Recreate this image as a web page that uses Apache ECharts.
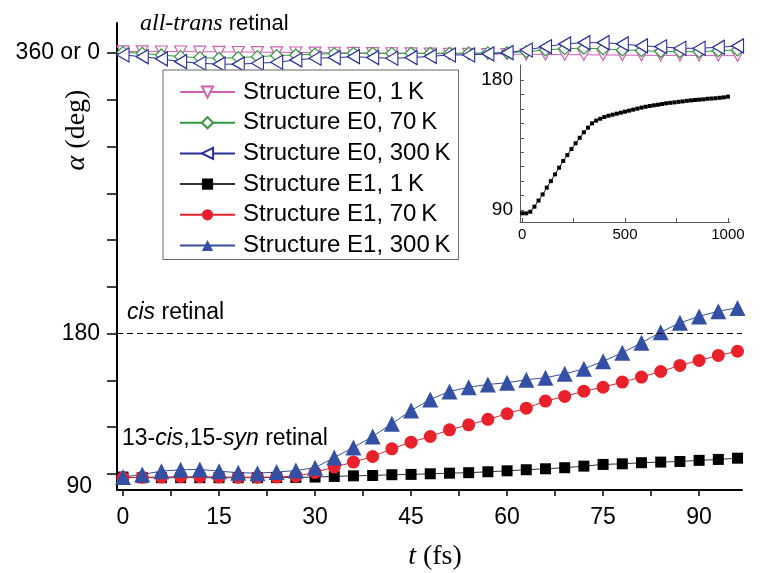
<!DOCTYPE html>
<html>
<head>
<meta charset="utf-8">
<script src="https://cdn.jsdelivr.net/npm/echarts@6/dist/echarts.min.js"></script>
<style>
  html, body { margin: 0; padding: 0; background: #fff; }
  #chart { width: 762px; height: 573px; }
</style>
</head>
<body>
<div id="chart"></div>
<script>
// time axis (fs), one point every 3 fs
var times = [0, 3, 6, 9, 12, 15, 18, 21, 24, 27, 30, 33, 36, 39, 42, 45, 48, 51, 54, 57, 60, 63, 66, 69, 72, 75, 78, 81, 84, 87, 90, 93, 96];

// structure E0 stays near all-trans (360 or 0)
var e0_1K = [361.0, 361.0, 360.9, 360.9, 360.8, 360.7, 360.6, 360.5, 360.4, 360.3, 360.2, 360.1, 360.0, 359.9, 359.8, 359.7, 359.6, 359.5, 359.4, 359.3, 359.2, 359.1, 359.0, 358.9, 358.8, 358.7, 358.6, 358.5, 358.4, 358.4, 358.3, 358.3, 358.2];
var e0_70K = [360.4, 359.8, 358.7, 357.6, 357.0, 356.6, 357.0, 357.6, 358.3, 358.7, 359.2, 359.6, 359.8, 359.8, 359.7, 359.8, 359.8, 359.8, 359.9, 360.0, 360.2, 360.8, 361.9, 362.8, 363.0, 362.6, 361.9, 361.5, 360.9, 360.8, 360.8, 361.4, 361.9];
var e0_300K = [358.7, 357.6, 356.2, 354.4, 353.4, 352.8, 352.8, 353.4, 354.0, 355.5, 356.6, 357.0, 357.6, 357.0, 356.6, 357.0, 357.8, 358.7, 358.7, 359.4, 360.2, 361.9, 364.0, 365.8, 366.6, 366.6, 365.8, 364.5, 364.0, 363.0, 363.0, 363.6, 364.5];

// structure E1 twists from 13-cis,15-syn towards cis
var e1_1K = [88.0, 87.6, 87.6, 87.6, 87.6, 87.6, 87.6, 87.6, 87.7, 87.8, 88.0, 88.4, 88.8, 89.0, 89.5, 89.7, 90.1, 90.5, 90.8, 91.4, 92.0, 92.7, 93.3, 94.0, 95.0, 96.1, 96.5, 97.2, 97.6, 98.0, 98.7, 99.3, 100.1];
var e1_70K = [87.5, 87.8, 88.0, 88.2, 88.2, 88.0, 87.9, 87.9, 88.0, 88.6, 91.0, 94.4, 97.6, 101.2, 106.1, 110.4, 114.0, 118.3, 121.5, 125.0, 128.6, 132.2, 136.7, 139.7, 143.1, 145.6, 148.9, 152.1, 155.7, 159.6, 162.8, 166.0, 168.7];
var e1_300K = [88.0, 89.7, 91.8, 92.7, 92.9, 91.8, 90.8, 90.5, 91.2, 92.2, 94.0, 100.5, 107.0, 114.0, 122.2, 130.7, 137.8, 142.9, 145.6, 147.4, 148.5, 150.4, 151.7, 154.2, 157.4, 162.3, 167.7, 174.1, 180.9, 186.9, 191.0, 194.4, 196.5];

// inset: E1 1K over 1000 fs
var insetTimes = [0, 20, 40, 60, 80, 100, 120, 140, 160, 180, 200, 220, 240, 260, 280, 300, 320, 340, 360, 380, 400, 420, 440, 460, 480, 500, 520, 540, 560, 580, 600, 620, 640, 660, 680, 700, 720, 740, 760, 780, 800, 820, 840, 860, 880, 900, 920, 940, 960, 980, 1000];
var insetAngle = [87.7, 87.7, 88.8, 92.3, 96.5, 100.8, 105.5, 110.0, 114.7, 119.3, 124.0, 128.0, 132.2, 136.2, 140.0, 143.8, 147.0, 150.0, 151.9, 153.2, 154.4, 155.3, 156.0, 156.7, 157.4, 158.1, 158.8, 159.5, 160.2, 160.9, 161.5, 162.0, 162.5, 162.9, 163.4, 163.9, 164.2, 164.5, 164.9, 165.2, 165.6, 165.9, 166.2, 166.4, 166.6, 167.0, 167.2, 167.4, 167.7, 168.0, 168.5];

// ticks and labels
var xTicks = [0, 7.5, 15, 22.5, 30, 37.5, 45, 52.5, 60, 67.5, 75, 82.5, 90];
var xLabels = [0, 15, 30, 45, 60, 75, 90];
var yTicks = [90, 120, 150, 180, 210, 240, 270, 300, 330, 360];
var yLabels = [90, 180, 360];
var insetXTicks = [0, 250, 500, 750, 1000];
var insetXLabels = [0, 500, 1000];
var insetYTicks = [90, 100, 110, 120, 130, 140, 150, 160, 170, 180];
var insetYLabels = [90, 180];

var SANS = "'Liberation Sans', Arial, sans-serif";
var SERIF = "'Liberation Serif', 'Times New Roman', serif";

var LEFT_TRI = 'path://M0,7 L12,0 L12,14 Z';
var DOWN_TRI = 'path://M0,0 L12,0 L6,11 Z';

function pairs(xs, ys) {
	return xs.map(function (x, i) { return [x, ys[i]]; });
}

function hollow(name, data, color, symbol, size) {
	return {
		name: name, type: 'line', data: pairs(times, data),
		symbol: symbol, symbolSize: size, showAllSymbol: true,
		lineStyle: { color: color, width: 1 },
		itemStyle: { color: '#fff', borderColor: color, borderWidth: 1.2 },
		emphasis: { disabled: true }
	};
}

function solid(name, data, color, symbol, size) {
	return {
		name: name, type: 'line', data: pairs(times, data),
		symbol: symbol, symbolSize: size, showAllSymbol: true,
		lineStyle: { color: color, width: 1 },
		itemStyle: { color: color },
		emphasis: { disabled: true }
	};
}

var chart = echarts.init(document.getElementById('chart'), null, { renderer: 'canvas' });

var e1Black = solid('Structure E1, 1\u2009K', e1_1K, '#000', 'rect', 11);
e1Black.lineStyle.color = '#333';
e1Black.markLine = {
	silent: true, symbol: 'none', label: { show: false },
	lineStyle: { color: '#000', type: [6, 4], width: 1.2 },
	data: [{ yAxis: 180 }]
};

var option = {
	animation: false,
	backgroundColor: '#fff',
	grid: [
		{ left: 117, top: 23, right: 20, bottom: 83 },
		{ left: 520, top: 65, width: 210, height: 157, backgroundColor: '#fff', show: true, borderWidth: 0 }
	],
	xAxis: [{
		gridIndex: 0, type: 'value', min: -0.94, max: 96.7,
		splitLine: { show: false },
		axisLine: { onZero: false, lineStyle: { color: '#000', width: 2 } },
		axisTick: { customValues: xTicks, length: 6, lineStyle: { color: '#000', width: 1.5 } },
		axisLabel: { customValues: xLabels, color: '#000', fontSize: 23, fontFamily: SANS, margin: 16 }
	}, {
		gridIndex: 1, type: 'value', min: -10, max: 1010,
		splitLine: { show: false },
		axisLine: { onZero: false, lineStyle: { color: '#555', width: 1 } },
		axisTick: { customValues: insetXTicks, inside: true, length: 4, lineStyle: { color: '#555' } },
		axisLabel: {
			customValues: insetXLabels, color: '#000', fontSize: 15, fontFamily: SANS, margin: 5,
			formatter: function (v) { return String(v); }
		}
	}],
	yAxis: [{
		gridIndex: 0, type: 'value', min: 79.7, max: 379.2,
		splitLine: { show: false },
		axisLine: { onZero: false, lineStyle: { color: '#000', width: 2 } },
		axisTick: { customValues: yTicks, length: 10, lineStyle: { color: '#000', width: 1.5 } },
		axisLabel: {
			customValues: yLabels, color: '#000', fontSize: 23, fontFamily: SANS, margin: 17,
			formatter: function (v) {
				if (v === 360) return '360 or 0';
				if (v === 90) return '{low|90}';
				return String(v);
			},
			rich: { low: { fontSize: 23, fontFamily: SANS, color: '#000', padding: [26, 8, 0, 0] } }
		}
	}, {
		gridIndex: 1, type: 'value', min: 81.7, max: 190.4,
		splitLine: { show: false },
		axisLine: { onZero: false, lineStyle: { color: '#555', width: 1 } },
		axisTick: { customValues: insetYTicks, inside: true, length: 4, lineStyle: { color: '#555' } },
		axisLabel: { customValues: insetYLabels, color: '#000', fontSize: 19, fontFamily: SANS, margin: 7 }
	}],
	legend: {
		orient: 'vertical', left: 163, top: 70,
		padding: [10, 8, 2, 16],
		itemWidth: 55, itemHeight: 14, itemGap: 6.7,
		borderColor: '#666', borderWidth: 1, backgroundColor: '#fff',
		textStyle: { fontSize: 24, fontFamily: SANS, color: '#000', lineHeight: 22, padding: [0, 0, 0, 3] },
		data: ['Structure E0, 1\u2009K', 'Structure E0, 70\u2009K', 'Structure E0, 300\u2009K',
			'Structure E1, 1\u2009K', 'Structure E1, 70\u2009K', 'Structure E1, 300\u2009K']
	},
	graphic: [{
		type: 'text', left: 140, top: 12,
		style: {
			text: '{i|all-trans}{n| retinal}',
			rich: {
				i: { fontFamily: SERIF, fontStyle: 'italic', fontSize: 24, fill: '#000' },
				n: { fontFamily: SANS, fontSize: 22, fill: '#000' }
			}
		}
	}, {
		type: 'text', left: 127, top: 301,
		style: {
			text: '{i|cis}{n| retinal}',
			rich: {
				i: { fontFamily: SANS, fontStyle: 'italic', fontSize: 23, fill: '#000' },
				n: { fontFamily: SANS, fontSize: 23, fill: '#000' }
			}
		}
	}, {
		type: 'text', left: 122, top: 427,
		style: {
			text: '{n|13-}{i|cis}{n|,15-}{i|syn}{n| retinal}',
			rich: {
				i: { fontFamily: SANS, fontStyle: 'italic', fontSize: 23, fill: '#000' },
				n: { fontFamily: SANS, fontSize: 23, fill: '#000' }
			}
		}
	}, {
		type: 'text', x: 77, y: 130, rotation: Math.PI / 2,
		style: {
			text: '{i|α}{n| (deg)}', align: 'center', verticalAlign: 'middle',
			rich: {
				i: { fontFamily: SERIF, fontStyle: 'italic', fontSize: 28, fill: '#000' },
				n: { fontFamily: SERIF, fontSize: 28, fill: '#000' }
			}
		}
	}, {
		type: 'text', x: 435, y: 557,
		style: {
			text: '{i|t}{n| (fs)}', align: 'center', verticalAlign: 'middle',
			rich: {
				i: { fontFamily: SERIF, fontStyle: 'italic', fontSize: 28, fill: '#000' },
				n: { fontFamily: SERIF, fontSize: 28, fill: '#000' }
			}
		}
	}],
	series: [
		hollow('Structure E0, 1\u2009K', e0_1K, '#d25fb8', DOWN_TRI, [12, 11]),
		hollow('Structure E0, 70\u2009K', e0_70K, '#2f9a3c', 'diamond', [12, 12]),
		hollow('Structure E0, 300\u2009K', e0_300K, '#2b2f9e', LEFT_TRI, [12, 14]),
		e1Black,
		solid('Structure E1, 70\u2009K', e1_70K, '#e8212b', 'circle', 13),
		solid('Structure E1, 300\u2009K', e1_300K, '#3450a4', 'triangle', 16),
		{
			name: 'inset', type: 'line', xAxisIndex: 1, yAxisIndex: 1,
			data: pairs(insetTimes, insetAngle),
			symbol: 'rect', symbolSize: 4, showAllSymbol: true,
			lineStyle: { color: '#222', width: 1 },
			itemStyle: { color: '#000' },
			emphasis: { disabled: true }
		}
	]
};

chart.setOption(option);
</script>
</body>
</html>
